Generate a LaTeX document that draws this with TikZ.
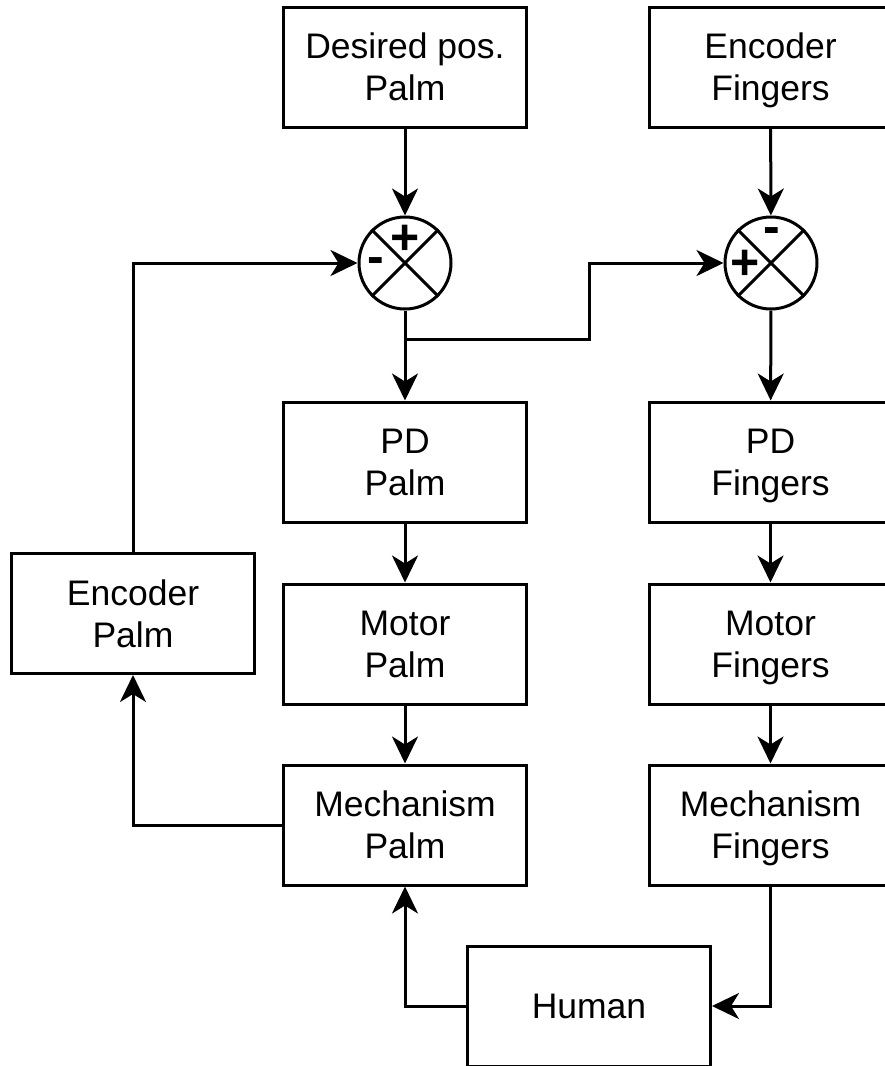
\documentclass[tikz,border=0pt]{standalone}
\usepackage{fontspec}
\setmainfont{Liberation Sans}
\usepackage{tikz}
\usetikzlibrary{arrows.meta,positioning,calc}

\tikzset{
  blockbox/.style={draw, line width=3pt, minimum width=243pt, minimum height=120pt,
    align=center, inner sep=0pt, text depth=0pt, font=\fontsize{35.5}{42}\selectfont},
  sumbox/.style={draw, circle, line width=3pt, minimum size=92pt, inner sep=0pt},
  sig/.style={font=\fontsize{50}{50}\selectfont\bfseries, inner sep=0pt},
  link/.style={line width=3pt, -{Stealth[length=27pt, width=26pt, inset=8pt]}},
  wire/.style={line width=3pt}
}

\begin{document}
\begin{tikzpicture}[x=1pt, y=-1pt]
    \useasboundingbox (0,0) rectangle (884,1066);
    % inputs
    \node[blockbox] (desp) at (405,67) {Desired pos.\\Palm};
    \node[blockbox] (encf) at (770.5,67) {Encoder\\Fingers};
    % summing points
    \node[sumbox] (sump) at (405,263) {};
    \node[sumbox] (sumf) at (771,263) {};
    \draw[wire] (sump.north west) -- (sump.south east) (sump.north east) -- (sump.south west);
    \draw[wire] (sumf.north west) -- (sumf.south east) (sumf.north east) -- (sumf.south west);
    \node[sig] (sump+) at (405,240) {+};
    \node[sig] (sump-) at (376,266) {-};
    \node[sig] (sumf-) at (772,236) {-};
    \node[sig] (sumf+) at (745,265) {+};
    % palm chain
    \node[blockbox] (pdp) at (405,462) {PD\\Palm};
    \node[blockbox] (motp) at (405,644) {Motor\\Palm};
    \node[blockbox] (mechp) at (405,825) {Mechanism\\Palm};
    \node[blockbox] (encp) at (133,613.5) {Encoder\\Palm};
    % finger chain
    \node[blockbox] (pdf) at (770.5,462) {PD\\Fingers};
    \node[blockbox] (motf) at (770.5,644) {Motor\\Fingers};
    \node[blockbox] (mechf) at (770.5,825) {Mechanism\\Fingers};
    \node[blockbox] (hum) at (589,1006) {Human};

    \coordinate (split) at (405,339);

    \draw[link] (desp) -- (sump);
    \draw[link] (encf) -- (sumf);
    \draw[link] (sump) -- (pdp);
    \draw[link] (split) -- (589,339) -- (589,263) -- (sumf.west);
    \draw[link] (sumf) -- (pdf);
    \draw[link] (pdp) -- (motp);
    \draw[link] (motp) -- (mechp);
    \draw[link] (pdf) -- (motf);
    \draw[link] (motf) -- (mechf);
    \draw[link] (mechp.west) -| (encp.south);
    \draw[link] (encp.north) |- (sump.west);
    \draw[link] (hum.west) -| (mechp.south);
    \draw[link] (mechf.south) |- (hum.east);
\end{tikzpicture}
\end{document}
